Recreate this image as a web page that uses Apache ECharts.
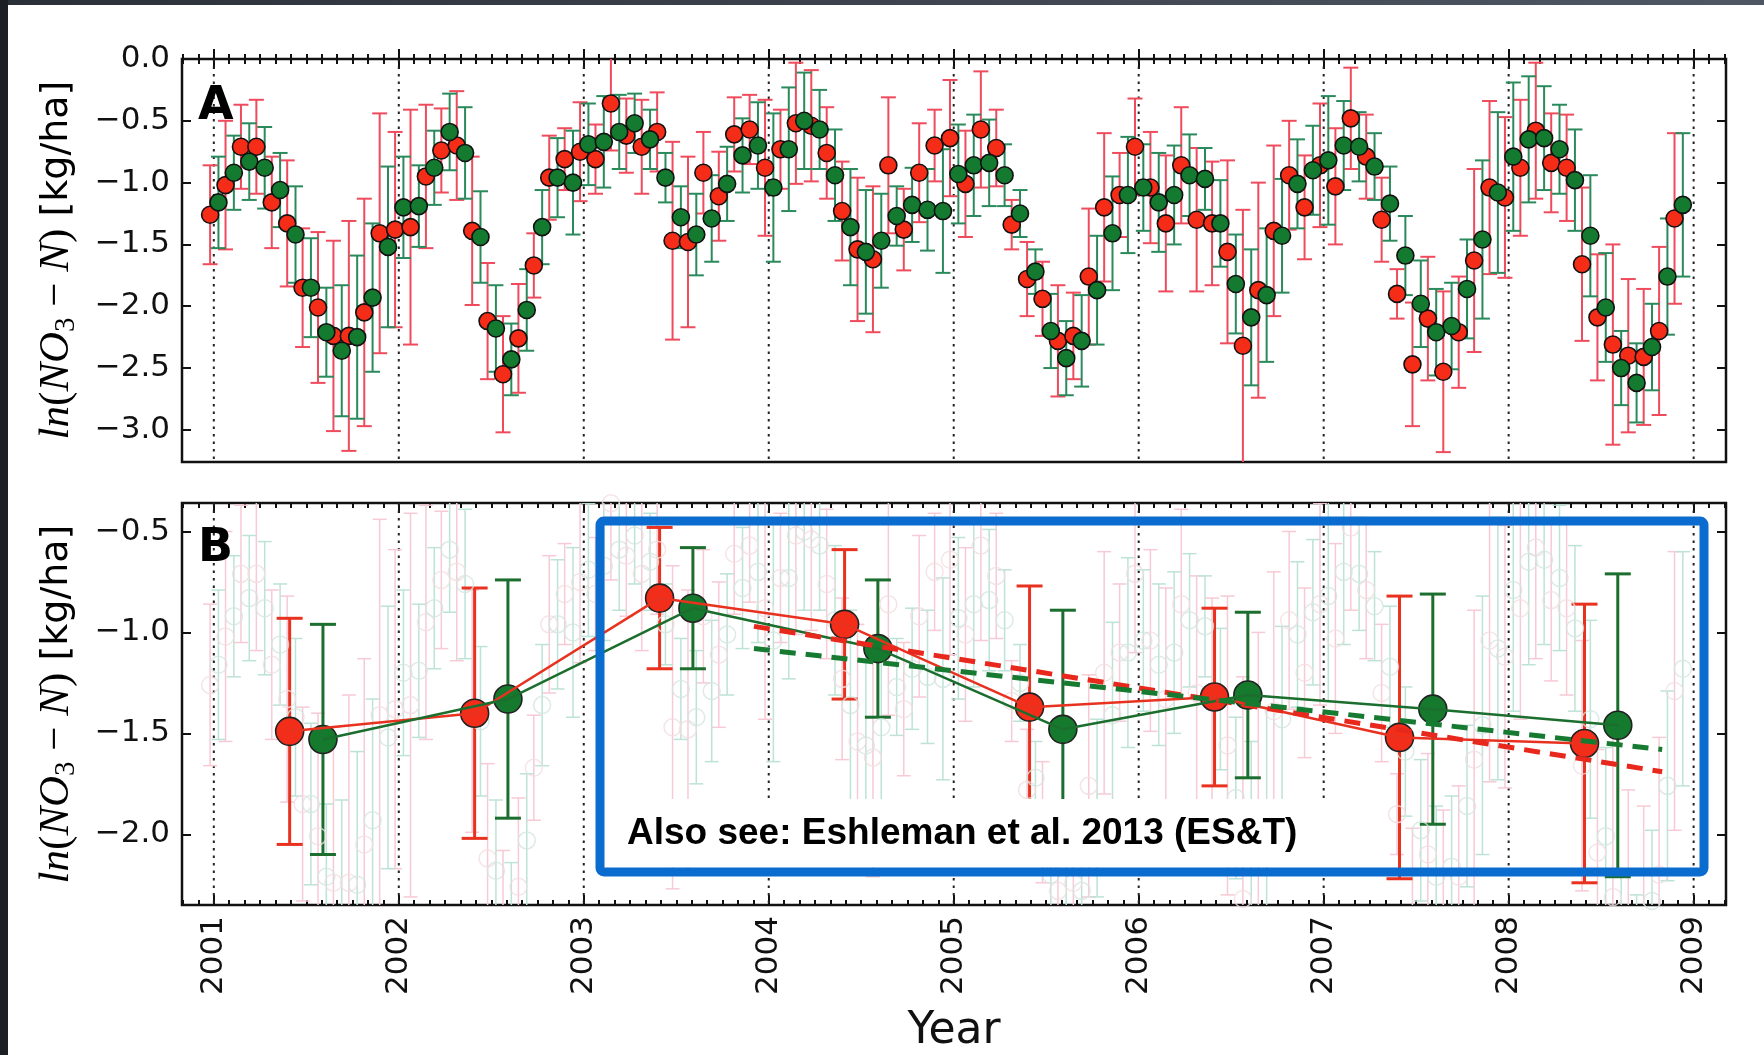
<!DOCTYPE html>
<html>
<head>
<meta charset="utf-8">
<script src="https://cdn.jsdelivr.net/npm/echarts@6/dist/echarts.min.js"></script>
<style>
html,body{margin:0;padding:0;background:#fff;}
#chart{width:1764px;height:1055px;}
</style>
</head>
<body>
<div id="chart"></div>
<script>
//年份刻度
var years = [2001, 2002, 2003, 2004, 2005, 2006, 2007, 2008, 2009];
var yTicksA = [-3.0, -2.5, -2.0, -1.5, -1.0, -0.5, 0.0];
var yTicksB = [-2.0, -1.5, -1.0, -0.5];

//月度数据 Jan 2001 .. Dec 2008 (ln kg/ha)
var redMonthly = [
  -1.26, -1.02, -0.71, -0.71, -1.16, -1.33, -1.85, -2.01, -2.24, -2.24, -2.05, -1.41,
  -1.38, -1.36, -0.95, -0.74, -0.70, -1.39, -2.12, -2.55, -2.26, -1.67, -0.96, -0.81,
  -0.75, -0.81, -0.36, -0.62, -0.71, -0.59, -1.47, -1.48, -0.92, -1.11, -0.61, -0.57,
  -0.88, -0.73, -0.52, -0.54, -0.76, -1.23, -1.54, -1.62, -0.86, -1.38, -0.92, -0.70,
  -0.64, -1.01, -0.57, -0.72, -1.34, -1.78, -1.94, -2.28, -2.24, -1.76, -1.20, -1.10,
  -0.71, -1.04, -1.33, -0.86, -1.30, -1.33, -1.56, -2.32, -1.87, -1.39, -0.94, -1.20,
  -0.86, -1.03, -0.48, -0.79, -1.30, -1.90, -2.47, -2.10, -2.53, -2.21, -1.63, -1.04,
  -1.12, -0.88, -0.58, -0.84, -0.88, -1.66, -2.09, -2.31, -2.40, -2.41, -2.20, -1.29
];
var redMonthlyErr = [
  0.40, 0.52, 0.34, 0.38, 0.37, 0.51, 0.48, 0.61, 0.77, 0.93, 0.92, 0.97,
  0.79, 0.95, 0.58, 0.34, 0.44, 0.60, 0.47, 0.47, 0.44, 0.26, 0.34, 0.25,
  0.40, 0.28, 0.38, 0.30, 0.38, 0.32, 0.80, 0.69, 0.33, 0.36, 0.30, 0.28,
  0.55, 0.32, 0.49, 0.45, 0.37, 0.40, 0.58, 0.59, 0.55, 0.33, 0.40, 0.29,
  0.47, 0.43, 0.47, 0.31, 0.20, 0.30, 0.30, 0.45, 0.35, 0.55, 0.60, 0.34,
  0.39, 0.45, 0.55, 0.47, 0.58, 0.50, 0.74, 1.10, 0.87, 0.69, 0.44, 0.42,
  0.50, 0.47, 0.41, 0.34, 0.34, 0.20, 0.50, 0.50, 0.65, 0.45, 0.74, 0.70,
  0.65, 0.55, 0.55, 0.40, 0.43, 0.62, 0.51, 0.81, 0.62, 0.55, 0.68, 0.69
];
var greenMonthly = [
  -1.16, -0.92, -0.83, -0.88, -1.06, -1.42, -1.85, -2.21, -2.36, -2.25, -1.93, -1.52,
  -1.20, -1.19, -0.88, -0.59, -0.76, -1.44, -2.18, -2.43, -2.03, -1.36, -0.96, -1.00,
  -0.69, -0.67, -0.59, -0.52, -0.65, -0.96, -1.28, -1.42, -1.29, -1.01, -0.78, -0.70,
  -1.04, -0.73, -0.50, -0.57, -0.94, -1.36, -1.56, -1.47, -1.27, -1.18, -1.22, -1.23,
  -0.93, -0.86, -0.84, -0.94, -1.25, -1.72, -2.20, -2.42, -2.28, -1.87, -1.41, -1.10,
  -1.04, -1.16, -1.10, -0.94, -0.97, -1.33, -1.82, -2.09, -1.91, -1.43, -1.01, -0.90,
  -0.82, -0.70, -0.71, -0.87, -1.17, -1.59, -1.98, -2.21, -2.16, -1.86, -1.46, -1.08,
  -0.79, -0.65, -0.64, -0.73, -0.98, -1.43, -2.01, -2.50, -2.62, -2.33, -1.76, -1.18
];
var greenMonthlyErr = [
  0.37, 0.30, 0.31, 0.33, 0.30, 0.39, 0.40, 0.36, 0.53, 0.66, 0.60, 0.65,
  0.41, 0.33, 0.30, 0.31, 0.37, 0.37, 0.35, 0.29, 0.33, 0.30, 0.32, 0.42,
  0.33, 0.37, 0.30, 0.24, 0.24, 0.20, 0.25, 0.33, 0.35, 0.30, 0.30, 0.35,
  0.60, 0.50, 0.39, 0.32, 0.37, 0.47, 0.50, 0.38, 0.24, 0.30, 0.33, 0.50,
  0.40, 0.41, 0.35, 0.25, 0.19, 0.18, 0.30, 0.30, 0.37, 0.44, 0.46, 0.47,
  0.35, 0.40, 0.40, 0.33, 0.25, 0.35, 0.40, 0.55, 0.54, 0.46, 0.36, 0.36,
  0.52, 0.36, 0.28, 0.27, 0.30, 0.32, 0.35, 0.35, 0.35, 0.40, 0.64, 0.65,
  0.60, 0.51, 0.42, 0.36, 0.41, 0.49, 0.44, 0.30, 0.32, 0.35, 0.47, 0.58
];

//年均值
var annualYears = [2001, 2002, 2003, 2004, 2005, 2006, 2007, 2008];
var redAnnual = [-1.49, -1.40, -0.83, -0.96, -1.37, -1.32, -1.52, -1.55];
var redAnnualErr = [0.56, 0.62, 0.35, 0.37, 0.60, 0.44, 0.70, 0.69];
var greenAnnual = [-1.53, -1.33, -0.88, -1.08, -1.48, -1.31, -1.38, -1.46];
var greenAnnualErr = [0.57, 0.59, 0.30, 0.34, 0.59, 0.41, 0.57, 0.75];

//趋势线
var trendX = [2003.92, 2008.83];
var redTrend = [-0.97, -1.69];
var greenTrend = [-1.08, -1.58];

var X_MIN = 2000.828, X_MAX = 2009.175;
var RED_SHIFT = -0.02, GREEN_SHIFT = 0.025;      //月度点的水平错开
var RED_SHIFT_B = 0.41, GREEN_SHIFT_B = 0.59;    //年均值点位置

var monthTicks = [];
for (var m = -2; m <= 98; m++) {
    var t = 2001 + m / 12;
    if (t > X_MIN && t < X_MAX) monthTicks.push(t);
}

function pointsOf(vals, shift) {
    var out = [];
    for (var i = 0; i < vals.length; i++) out.push([2001 + i / 12 + shift, vals[i]]);
    return out;
}
function barsOf(vals, errs, shift) {
    var out = [];
    for (var i = 0; i < vals.length; i++) out.push([2001 + i / 12 + shift, vals[i] - errs[i], vals[i] + errs[i]]);
    return out;
}
function annualPoints(vals, shift) {
    return annualYears.map(function (y, i) { return [y + shift, vals[i]]; });
}
function annualBars(vals, errs, shift) {
    return annualYears.map(function (y, i) { return [y + shift, vals[i] - errs[i], vals[i] + errs[i]]; });
}

//误差棒
function errorBarItem(color, lineW, capW) {
    return function (params, api) {
        var x = api.value(0);
        var top = api.coord([x, api.value(2)]);
        var bot = api.coord([x, api.value(1)]);
        var st = { stroke: color, lineWidth: lineW };
        return {
            type: 'group',
            children: [
                { type: 'line', shape: { x1: top[0], y1: top[1], x2: bot[0], y2: bot[1] }, style: st },
                { type: 'line', shape: { x1: top[0] - capW / 2, y1: top[1], x2: top[0] + capW / 2, y2: top[1] }, style: st },
                { type: 'line', shape: { x1: bot[0] - capW / 2, y1: bot[1], x2: bot[0] + capW / 2, y2: bot[1] }, style: st }
            ]
        };
    };
}
//年份虚线
function yearLineItem(params, api) {
    var cs = params.coordSys;
    var p = api.coord([api.value(0), api.value(1)]);
    return {
        type: 'line',
        shape: { x1: p[0], y1: cs.y, x2: p[0], y2: cs.y + cs.height },
        style: { stroke: '#222', lineWidth: 2, lineDash: [2.5, 5] }
    };
}

var tickColor = '#111';
function xAxisFor(grid, pos, ticks, len, withLabels) {
    return {
        type: 'value', gridIndex: grid, position: pos, min: X_MIN, max: X_MAX,
        axisLine: { show: false },
        splitLine: { show: false },
        axisTick: { show: true, inside: true, length: len, customValues: ticks, lineStyle: { color: tickColor, width: 2 } },
        axisLabel: withLabels ? {
            show: true, customValues: years, rotate: 90, margin: 11,
            fontFamily: 'DejaVu Sans', fontSize: 31, color: '#111',
            formatter: function (v) { return String(Math.round(v)); }
        } : { show: false }
    };
}
function fmtY(v) {
    return (v < -1e-9 ? '\u2212' : '') + Math.abs(v).toFixed(1);
}
function yAxisFor(grid, pos, min, max, ticks, withLabels) {
    return {
        type: 'value', gridIndex: grid, position: pos, min: min, max: max,
        axisLine: { show: false },
        splitLine: { show: false },
        axisTick: { show: true, inside: true, length: 9, customValues: ticks, lineStyle: { color: tickColor, width: 2 } },
        axisLabel: withLabels ? {
            show: true, customValues: ticks, margin: 12,
            fontFamily: 'DejaVu Sans', fontSize: 31, color: '#111', formatter: fmtY
        } : { show: false }
    };
}

var RED_PT = '#f52c17', GREEN_PT = '#137a30';
var RED_BAR = '#ef4b5c', GREEN_BAR = '#2b8a5c';
var yearData = years.map(function (y) { return [y, -1]; });

var series = [
    //A 面板
    { type: 'custom', xAxisIndex: 0, yAxisIndex: 0, data: yearData, renderItem: yearLineItem, silent: true },
    { type: 'custom', xAxisIndex: 0, yAxisIndex: 0, clip: true, silent: true,
      data: barsOf(redMonthly, redMonthlyErr, RED_SHIFT), renderItem: errorBarItem(RED_BAR, 2, 15) },
    { type: 'scatter', xAxisIndex: 0, yAxisIndex: 0, symbolSize: 17, silent: true,
      data: pointsOf(redMonthly, RED_SHIFT),
      itemStyle: { color: RED_PT, borderColor: '#111', borderWidth: 1.6, opacity: 1 } },
    { type: 'custom', xAxisIndex: 0, yAxisIndex: 0, clip: true, silent: true,
      data: barsOf(greenMonthly, greenMonthlyErr, GREEN_SHIFT), renderItem: errorBarItem(GREEN_BAR, 2, 15) },
    { type: 'scatter', xAxisIndex: 0, yAxisIndex: 0, symbolSize: 17, silent: true,
      data: pointsOf(greenMonthly, GREEN_SHIFT),
      itemStyle: { color: GREEN_PT, borderColor: '#111', borderWidth: 1.6, opacity: 1 } },

    //B 面板 背景淡色
    { type: 'custom', xAxisIndex: 4, yAxisIndex: 2, data: yearData, renderItem: yearLineItem, silent: true },
    { type: 'custom', xAxisIndex: 4, yAxisIndex: 2, clip: true, silent: true,
      data: barsOf(redMonthly, redMonthlyErr, RED_SHIFT), renderItem: errorBarItem('#f7cad5', 1.5, 14) },
    { type: 'custom', xAxisIndex: 4, yAxisIndex: 2, clip: true, silent: true,
      data: barsOf(greenMonthly, greenMonthlyErr, GREEN_SHIFT), renderItem: errorBarItem('#bde2d7', 1.5, 14) },
    { type: 'scatter', xAxisIndex: 4, yAxisIndex: 2, symbolSize: 17, silent: true, clip: true,
      data: pointsOf(redMonthly, RED_SHIFT),
      itemStyle: { color: 'rgba(255,255,255,0)', borderColor: '#f1dde1', borderWidth: 1.5 } },
    { type: 'scatter', xAxisIndex: 4, yAxisIndex: 2, symbolSize: 17, silent: true, clip: true,
      data: pointsOf(greenMonthly, GREEN_SHIFT),
      itemStyle: { color: 'rgba(255,255,255,0)', borderColor: '#d3e6e0', borderWidth: 1.5 } },

    //B 面板 年均值
    { type: 'line', xAxisIndex: 4, yAxisIndex: 2, symbol: 'none', silent: true,
      data: annualPoints(redAnnual, RED_SHIFT_B), lineStyle: { color: '#e8321f', width: 2.5 } },
    { type: 'custom', xAxisIndex: 4, yAxisIndex: 2, clip: true, silent: true,
      data: annualBars(redAnnual, redAnnualErr, RED_SHIFT_B), renderItem: errorBarItem('#e8321f', 3, 26) },
    { type: 'line', xAxisIndex: 4, yAxisIndex: 2, symbol: 'none', silent: true,
      data: annualPoints(greenAnnual, GREEN_SHIFT_B), lineStyle: { color: '#1b6e2e', width: 2.5 } },
    { type: 'custom', xAxisIndex: 4, yAxisIndex: 2, clip: true, silent: true,
      data: annualBars(greenAnnual, greenAnnualErr, GREEN_SHIFT_B), renderItem: errorBarItem('#1b6e2e', 3, 26) },
    { type: 'line', xAxisIndex: 4, yAxisIndex: 2, symbol: 'none', silent: true,
      data: trendX.map(function (x, i) { return [x, redTrend[i]]; }),
      lineStyle: { color: '#e8281c', width: 5, type: [16, 10] } },
    { type: 'line', xAxisIndex: 4, yAxisIndex: 2, symbol: 'none', silent: true,
      data: trendX.map(function (x, i) { return [x, greenTrend[i]]; }),
      lineStyle: { color: '#177a31', width: 5, type: [16, 10] } },
    { type: 'scatter', xAxisIndex: 4, yAxisIndex: 2, symbolSize: 28, silent: true,
      data: annualPoints(redAnnual, RED_SHIFT_B),
      itemStyle: { color: '#f22e1a', borderColor: '#222', borderWidth: 1.6, opacity: 1 } },
    { type: 'scatter', xAxisIndex: 4, yAxisIndex: 2, symbolSize: 28, silent: true,
      data: annualPoints(greenAnnual, GREEN_SHIFT_B),
      itemStyle: { color: '#157a2d', borderColor: '#222', borderWidth: 1.6, opacity: 1 } }
];

var titleRich = {
    m: { fontFamily: 'Liberation Serif', fontStyle: 'italic', fontSize: 43, color: '#111', lineHeight: 48 },
    r: { fontFamily: 'Liberation Serif', fontSize: 43, color: '#111', lineHeight: 48 },
    s: { fontFamily: 'Liberation Serif', fontSize: 29, color: '#111', lineHeight: 28, verticalAlign: 'bottom' },
    n: { fontFamily: 'DejaVu Sans', fontSize: 38, color: '#111', lineHeight: 48 }
};
var titleText = '{m|ln}{r|(}{m|NO}{s|3}{r| \u2212 }{m|N}{r|)}{n| [kg/ha]}';

var option = {
    backgroundColor: '#ffffff',
    animation: false,
    grid: [
        { left: 182, top: 59, width: 1544, height: 403, show: true, borderColor: '#111', borderWidth: 2.5, backgroundColor: '#fff' },
        { left: 182, top: 503, width: 1544, height: 402, show: true, borderColor: '#111', borderWidth: 2.5, backgroundColor: '#fff' }
    ],
    xAxis: [
        xAxisFor(0, 'bottom', years, 10, false),
        xAxisFor(0, 'bottom', monthTicks, 5, false),
        xAxisFor(0, 'top', years, 10, false),
        xAxisFor(0, 'top', monthTicks, 5, false),
        xAxisFor(1, 'bottom', years, 10, true),
        xAxisFor(1, 'bottom', monthTicks, 5, false),
        xAxisFor(1, 'top', years, 10, false),
        xAxisFor(1, 'top', monthTicks, 5, false)
    ],
    yAxis: [
        yAxisFor(0, 'left', -3.26, 0, yTicksA, true),
        yAxisFor(0, 'right', -3.26, 0, yTicksA, false),
        yAxisFor(1, 'left', -2.35, -0.359, yTicksB, true),
        yAxisFor(1, 'right', -2.35, -0.359, yTicksB, false)
    ],
    series: series,
    graphic: [
        //边框条
        { type: 'rect', z: 100, shape: { x: 0, y: 0, width: 1764, height: 5 },
          style: { fill: new echarts.graphic.LinearGradient(0, 0, 1, 0, [{ offset: 0, color: '#2b3038' }, { offset: 1, color: '#4f5765' }]) } },
        { type: 'rect', z: 100, shape: { x: 0, y: 0, width: 8, height: 1055 }, style: { fill: '#1c1f24' } },
        //面板标识
        { type: 'text', z: 100, x: 198, y: 107, style: { text: 'A', fontFamily: 'DejaVu Sans', fontWeight: 'bold', fontSize: 46, fill: '#000', verticalAlign: 'middle' } },
        { type: 'text', z: 100, x: 198, y: 549, style: { text: 'B', fontFamily: 'DejaVu Sans', fontWeight: 'bold', fontSize: 46, fill: '#000', verticalAlign: 'middle' } },
        //纵轴标题
        { type: 'text', z: 100, x: 57, y: 260, rotation: Math.PI / 2,
          style: { text: titleText, rich: titleRich, align: 'center', verticalAlign: 'middle' } },
        { type: 'text', z: 100, x: 57, y: 704, rotation: Math.PI / 2,
          style: { text: titleText, rich: titleRich, align: 'center', verticalAlign: 'middle' } },
        //横轴标题
        { type: 'text', z: 100, x: 954, y: 1032,
          style: { text: 'Year', fontFamily: 'DejaVu Sans', fontSize: 44, fill: '#111', align: 'center', verticalAlign: 'middle' } },
        //注释框
        { type: 'rect', z: 100, shape: { x: 605, y: 799, width: 721, height: 68 }, style: { fill: '#fff' } },
        { type: 'rect', z: 101, shape: { x: 600, y: 521, width: 1104, height: 351, r: 4 },
          style: { fill: 'none', stroke: '#0b6cd0', lineWidth: 9 } },
        { type: 'text', z: 102, x: 627, y: 834,
          style: { text: 'Also see: Eshleman et al. 2013 (ES&T)', fontFamily: 'Liberation Sans', fontWeight: 'bold', fontSize: 37, fill: '#000', verticalAlign: 'middle' } }
    ]
};

var myChart = echarts.init(document.getElementById('chart'));
myChart.setOption(option);
</script>
</body>
</html>
